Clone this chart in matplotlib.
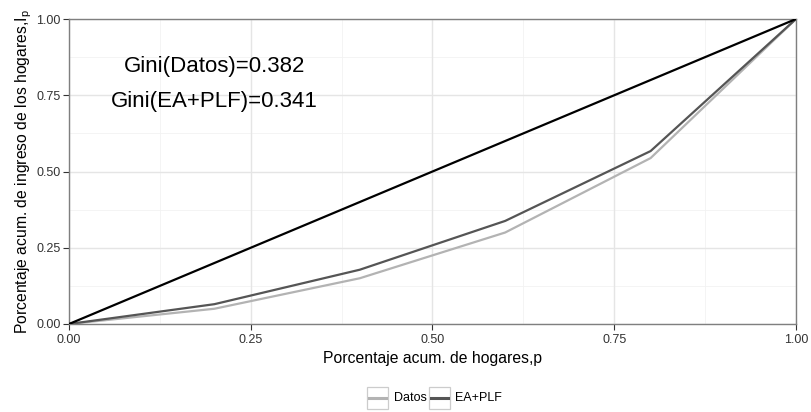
import matplotlib
matplotlib.use("Agg")
import matplotlib.pyplot as plt
from matplotlib.lines import Line2D
from matplotlib.patches import Rectangle

p = [0.0, 0.2, 0.4, 0.6, 0.8, 1.0]
datos = [0.0, 0.05, 0.15, 0.30, 0.544, 1.0]
ea_plf = [0.0, 0.065, 0.178, 0.338, 0.567, 1.0]
diag = [0.0, 1.0]
ticks = [0.00, 0.25, 0.50, 0.75, 1.00]
tick_labels = ["0.00", "0.25", "0.50", "0.75", "1.00"]
gini_texts = ["Gini(Datos)=0.382", "Gini(EA+PLF)=0.341"]
series_names = ["Datos", "EA+PLF"]
series_colors = ['#b3b3b3', '#555555']

plt.rcParams['font.family'] = ['Liberation Sans', 'DejaVu Sans']

W, H = 812, 412
fig = plt.figure(figsize=(W/100, H/100), dpi=100)
ax = fig.add_axes([69/W, 1-324/H, (796-69)/W, (324-19)/H])

ax.set_xlim(0, 1)
ax.set_ylim(0, 1)
minor = [0.125, 0.375, 0.625, 0.875]
for v in minor:
    ax.axvline(v, color='#f2f2f2', lw=0.6, zorder=0)
    ax.axhline(v, color='#f2f2f2', lw=0.6, zorder=0)
for v in ticks:
    ax.axvline(v, color='#e5e5e5', lw=1.0, zorder=0)
    ax.axhline(v, color='#e5e5e5', lw=1.0, zorder=0)

ax.plot(diag, diag, color='black', lw=1.6, zorder=3)
ax.plot(p, datos, color=series_colors[0], lw=1.6, zorder=2)
ax.plot(p, ea_plf, color=series_colors[1], lw=1.6, zorder=2)

ax.text(0.2, 0.843, gini_texts[0], ha='center', va='center', fontsize=16)
ax.text(0.2, 0.728, gini_texts[1], ha='center', va='center', fontsize=16)

ax.set_xticks(ticks)
ax.set_xticklabels(tick_labels)
ax.set_yticks(ticks)
ax.set_yticklabels(tick_labels)
ax.tick_params(direction='out', length=4, width=0.8, color='#333333', labelsize=9, labelcolor='#333333', pad=2)
ax.tick_params(axis='x', pad=3)
for s in ax.spines.values():
    s.set_color('#7f7f7f')
    s.set_linewidth(1.0)

ax.set_xlabel("Porcentaje acum. de hogares,p", fontsize=11.3, labelpad=4)
ax.set_ylabel("Porcentaje acum. de ingreso de los hogares,$\\mathregular{I_p}$", fontsize=11.3, labelpad=2)

# legend (manual, ggplot style key boxes)
box_x = [367, 429]
text_x = [394, 455]
yc = 398
for bx, tx, name, col in zip(box_x, text_x, series_names, series_colors):
    fig.patches.append(Rectangle((bx/W, 1-(yc+11)/H), 21/W, 22/H, transform=fig.transFigure,
                                 facecolor='white', edgecolor='#cccccc', lw=0.9))
    fig.lines.append(Line2D([(bx+2)/W, (bx+19)/W], [1-yc/H, 1-yc/H], transform=fig.transFigure,
                            color=col, lw=2.2))
    fig.text(tx/W, 1-yc/H, name, ha='left', va='center', fontsize=9)

fig.savefig("out.png", dpi=100)
